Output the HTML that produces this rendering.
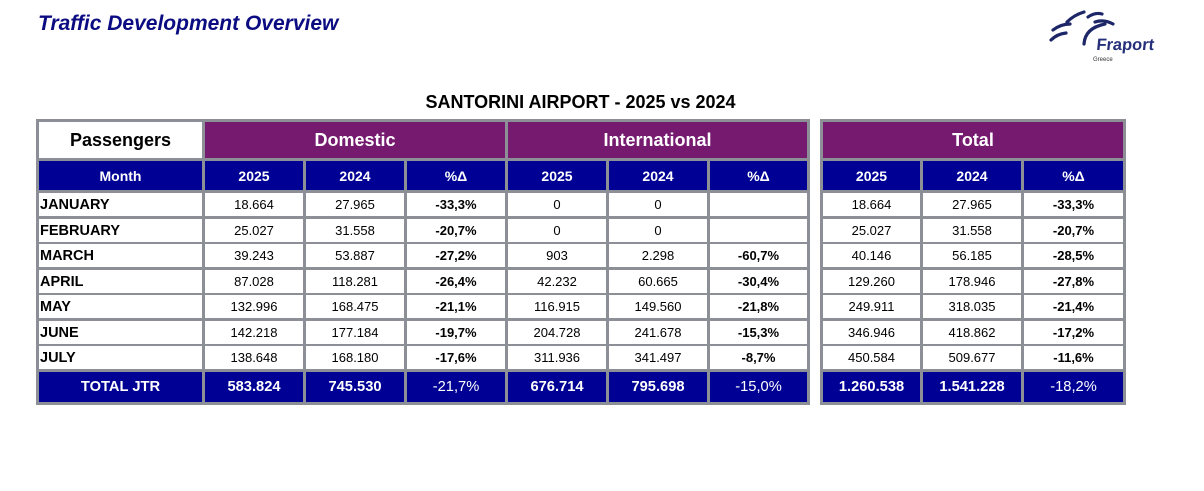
<!DOCTYPE html>
<html><head><meta charset="utf-8"><style>
html,body{margin:0;padding:0;background:#fff;}
body{width:1204px;height:491px;position:relative;overflow:hidden;font-family:"Liberation Sans",Arial,sans-serif;}
.a{position:absolute;}
.c{position:absolute;display:flex;align-items:center;justify-content:center;white-space:nowrap;box-sizing:border-box;}
.g{background:#8c8f96;}
.w{background:#fff;color:#000;font-size:13px;}
.wb{background:#fff;color:#000;font-size:13px;font-weight:bold;}
.p{background:#751a6f;color:#fff;font-size:18px;font-weight:bold;}
.b{background:#000094;color:#fff;font-size:14px;font-weight:bold;}
.t{background:#000094;color:#fff;font-size:14.7px;font-weight:bold;}
.tn{background:#000094;color:#fff;font-size:14.7px;font-weight:normal;}
.m{background:#fff;color:#000;font-size:14.5px;font-weight:bold;justify-content:flex-start;padding-left:1px;}
</style></head><body>

<div class="a" style="left:38px;top:13px;line-height:21px;font-size:21px;font-weight:bold;font-style:italic;color:#0c0c82;white-space:nowrap;">Traffic Development Overview</div>

<svg class="a" style="left:1040px;top:0px" width="140" height="70" viewBox="1040 0 140 70">
<g fill="none" stroke="#1d2768" stroke-width="3.2" stroke-linecap="round">
<path d="M1067 22 Q1074 15 1084 12"/>
<path d="M1088 17 Q1095 12 1102 14"/>
<path d="M1053 30 Q1061 24 1070 24"/>
<path d="M1051 40 Q1057 34 1066 33"/>
<path d="M1095 22 Q1104 19 1113 24"/>
<path d="M1084 44 Q1085 28 1105 24"/>
</g>
<text x="1096" y="50" font-family="Liberation Sans, Arial, sans-serif" font-size="16.5" font-weight="bold" transform="skewX(-6) translate(5.2,0)" fill="#26307a">Fraport</text>
<text x="1093" y="61" font-family="Liberation Sans, Arial, sans-serif" font-size="6" fill="#333">Greece</text>
</svg>

<div class="a" style="left:380px;top:93px;width:401px;text-align:center;line-height:18px;font-size:18px;font-weight:bold;color:#000;white-space:nowrap;">SANTORINI AIRPORT - 2025 vs 2024</div>

<div class="a g" style="left:36px;top:119px;width:774px;height:286px;"></div>
<div class="a g" style="left:820px;top:119px;width:306px;height:286px;"></div>

<div class="c" style="left:39px;top:122px;width:163px;height:36px;background:#fff;color:#000;font-size:18px;font-weight:bold;">Passengers</div>
<div class="c p" style="left:205px;top:122px;width:300px;height:36px;">Domestic</div>
<div class="c p" style="left:508px;top:122px;width:299px;height:36px;">International</div>
<div class="c p" style="left:823px;top:122px;width:300px;height:36px;">Total</div>

<div class="c b" style="left:39px;top:161px;width:163px;height:29px;">Month</div>
<div class="c b" style="left:205px;top:161px;width:98px;height:29px;">2025</div>
<div class="c b" style="left:306px;top:161px;width:98px;height:29px;">2024</div>
<div class="c b" style="left:407px;top:161px;width:98px;height:29px;">%Δ</div>
<div class="c b" style="left:508px;top:161px;width:98px;height:29px;">2025</div>
<div class="c b" style="left:609px;top:161px;width:98px;height:29px;">2024</div>
<div class="c b" style="left:710px;top:161px;width:97px;height:29px;">%Δ</div>
<div class="c b" style="left:823px;top:161px;width:97px;height:29px;">2025</div>
<div class="c b" style="left:923px;top:161px;width:98px;height:29px;">2024</div>
<div class="c b" style="left:1024px;top:161px;width:99px;height:29px;">%Δ</div>

<div class="c m" style="left:39px;top:193px;width:163px;height:23px;">JANUARY</div>
<div class="c w" style="left:205px;top:193px;width:98px;height:23px;">18.664</div>
<div class="c w" style="left:306px;top:193px;width:98px;height:23px;">27.965</div>
<div class="c wb" style="left:407px;top:193px;width:98px;height:23px;">-33,3%</div>
<div class="c w" style="left:508px;top:193px;width:98px;height:23px;">0</div>
<div class="c w" style="left:609px;top:193px;width:98px;height:23px;">0</div>
<div class="c wb" style="left:710px;top:193px;width:97px;height:23px;"></div>
<div class="c w" style="left:823px;top:193px;width:97px;height:23px;">18.664</div>
<div class="c w" style="left:923px;top:193px;width:98px;height:23px;">27.965</div>
<div class="c wb" style="left:1024px;top:193px;width:99px;height:23px;">-33,3%</div>

<div class="c m" style="left:39px;top:219px;width:163px;height:23px;">FEBRUARY</div>
<div class="c w" style="left:205px;top:219px;width:98px;height:23px;">25.027</div>
<div class="c w" style="left:306px;top:219px;width:98px;height:23px;">31.558</div>
<div class="c wb" style="left:407px;top:219px;width:98px;height:23px;">-20,7%</div>
<div class="c w" style="left:508px;top:219px;width:98px;height:23px;">0</div>
<div class="c w" style="left:609px;top:219px;width:98px;height:23px;">0</div>
<div class="c wb" style="left:710px;top:219px;width:97px;height:23px;"></div>
<div class="c w" style="left:823px;top:219px;width:97px;height:23px;">25.027</div>
<div class="c w" style="left:923px;top:219px;width:98px;height:23px;">31.558</div>
<div class="c wb" style="left:1024px;top:219px;width:99px;height:23px;">-20,7%</div>

<div class="c m" style="left:39px;top:244px;width:163px;height:23px;">MARCH</div>
<div class="c w" style="left:205px;top:244px;width:98px;height:23px;">39.243</div>
<div class="c w" style="left:306px;top:244px;width:98px;height:23px;">53.887</div>
<div class="c wb" style="left:407px;top:244px;width:98px;height:23px;">-27,2%</div>
<div class="c w" style="left:508px;top:244px;width:98px;height:23px;">903</div>
<div class="c w" style="left:609px;top:244px;width:98px;height:23px;">2.298</div>
<div class="c wb" style="left:710px;top:244px;width:97px;height:23px;">-60,7%</div>
<div class="c w" style="left:823px;top:244px;width:97px;height:23px;">40.146</div>
<div class="c w" style="left:923px;top:244px;width:98px;height:23px;">56.185</div>
<div class="c wb" style="left:1024px;top:244px;width:99px;height:23px;">-28,5%</div>

<div class="c m" style="left:39px;top:270px;width:163px;height:23px;">APRIL</div>
<div class="c w" style="left:205px;top:270px;width:98px;height:23px;">87.028</div>
<div class="c w" style="left:306px;top:270px;width:98px;height:23px;">118.281</div>
<div class="c wb" style="left:407px;top:270px;width:98px;height:23px;">-26,4%</div>
<div class="c w" style="left:508px;top:270px;width:98px;height:23px;">42.232</div>
<div class="c w" style="left:609px;top:270px;width:98px;height:23px;">60.665</div>
<div class="c wb" style="left:710px;top:270px;width:97px;height:23px;">-30,4%</div>
<div class="c w" style="left:823px;top:270px;width:97px;height:23px;">129.260</div>
<div class="c w" style="left:923px;top:270px;width:98px;height:23px;">178.946</div>
<div class="c wb" style="left:1024px;top:270px;width:99px;height:23px;">-27,8%</div>

<div class="c m" style="left:39px;top:295px;width:163px;height:23px;">MAY</div>
<div class="c w" style="left:205px;top:295px;width:98px;height:23px;">132.996</div>
<div class="c w" style="left:306px;top:295px;width:98px;height:23px;">168.475</div>
<div class="c wb" style="left:407px;top:295px;width:98px;height:23px;">-21,1%</div>
<div class="c w" style="left:508px;top:295px;width:98px;height:23px;">116.915</div>
<div class="c w" style="left:609px;top:295px;width:98px;height:23px;">149.560</div>
<div class="c wb" style="left:710px;top:295px;width:97px;height:23px;">-21,8%</div>
<div class="c w" style="left:823px;top:295px;width:97px;height:23px;">249.911</div>
<div class="c w" style="left:923px;top:295px;width:98px;height:23px;">318.035</div>
<div class="c wb" style="left:1024px;top:295px;width:99px;height:23px;">-21,4%</div>

<div class="c m" style="left:39px;top:321px;width:163px;height:23px;">JUNE</div>
<div class="c w" style="left:205px;top:321px;width:98px;height:23px;">142.218</div>
<div class="c w" style="left:306px;top:321px;width:98px;height:23px;">177.184</div>
<div class="c wb" style="left:407px;top:321px;width:98px;height:23px;">-19,7%</div>
<div class="c w" style="left:508px;top:321px;width:98px;height:23px;">204.728</div>
<div class="c w" style="left:609px;top:321px;width:98px;height:23px;">241.678</div>
<div class="c wb" style="left:710px;top:321px;width:97px;height:23px;">-15,3%</div>
<div class="c w" style="left:823px;top:321px;width:97px;height:23px;">346.946</div>
<div class="c w" style="left:923px;top:321px;width:98px;height:23px;">418.862</div>
<div class="c wb" style="left:1024px;top:321px;width:99px;height:23px;">-17,2%</div>

<div class="c m" style="left:39px;top:346px;width:163px;height:23px;">JULY</div>
<div class="c w" style="left:205px;top:346px;width:98px;height:23px;">138.648</div>
<div class="c w" style="left:306px;top:346px;width:98px;height:23px;">168.180</div>
<div class="c wb" style="left:407px;top:346px;width:98px;height:23px;">-17,6%</div>
<div class="c w" style="left:508px;top:346px;width:98px;height:23px;">311.936</div>
<div class="c w" style="left:609px;top:346px;width:98px;height:23px;">341.497</div>
<div class="c wb" style="left:710px;top:346px;width:97px;height:23px;">-8,7%</div>
<div class="c w" style="left:823px;top:346px;width:97px;height:23px;">450.584</div>
<div class="c w" style="left:923px;top:346px;width:98px;height:23px;">509.677</div>
<div class="c wb" style="left:1024px;top:346px;width:99px;height:23px;">-11,6%</div>

<div class="c t" style="left:39px;top:372px;width:163px;height:30px;">TOTAL JTR</div>
<div class="c t" style="left:205px;top:372px;width:98px;height:30px;">583.824</div>
<div class="c t" style="left:306px;top:372px;width:98px;height:30px;">745.530</div>
<div class="c tn" style="left:407px;top:372px;width:98px;height:30px;">-21,7%</div>
<div class="c t" style="left:508px;top:372px;width:98px;height:30px;">676.714</div>
<div class="c t" style="left:609px;top:372px;width:98px;height:30px;">795.698</div>
<div class="c tn" style="left:710px;top:372px;width:97px;height:30px;">-15,0%</div>
<div class="c t" style="left:823px;top:372px;width:97px;height:30px;">1.260.538</div>
<div class="c t" style="left:923px;top:372px;width:98px;height:30px;">1.541.228</div>
<div class="c tn" style="left:1024px;top:372px;width:99px;height:30px;">-18,2%</div>

</body></html>
